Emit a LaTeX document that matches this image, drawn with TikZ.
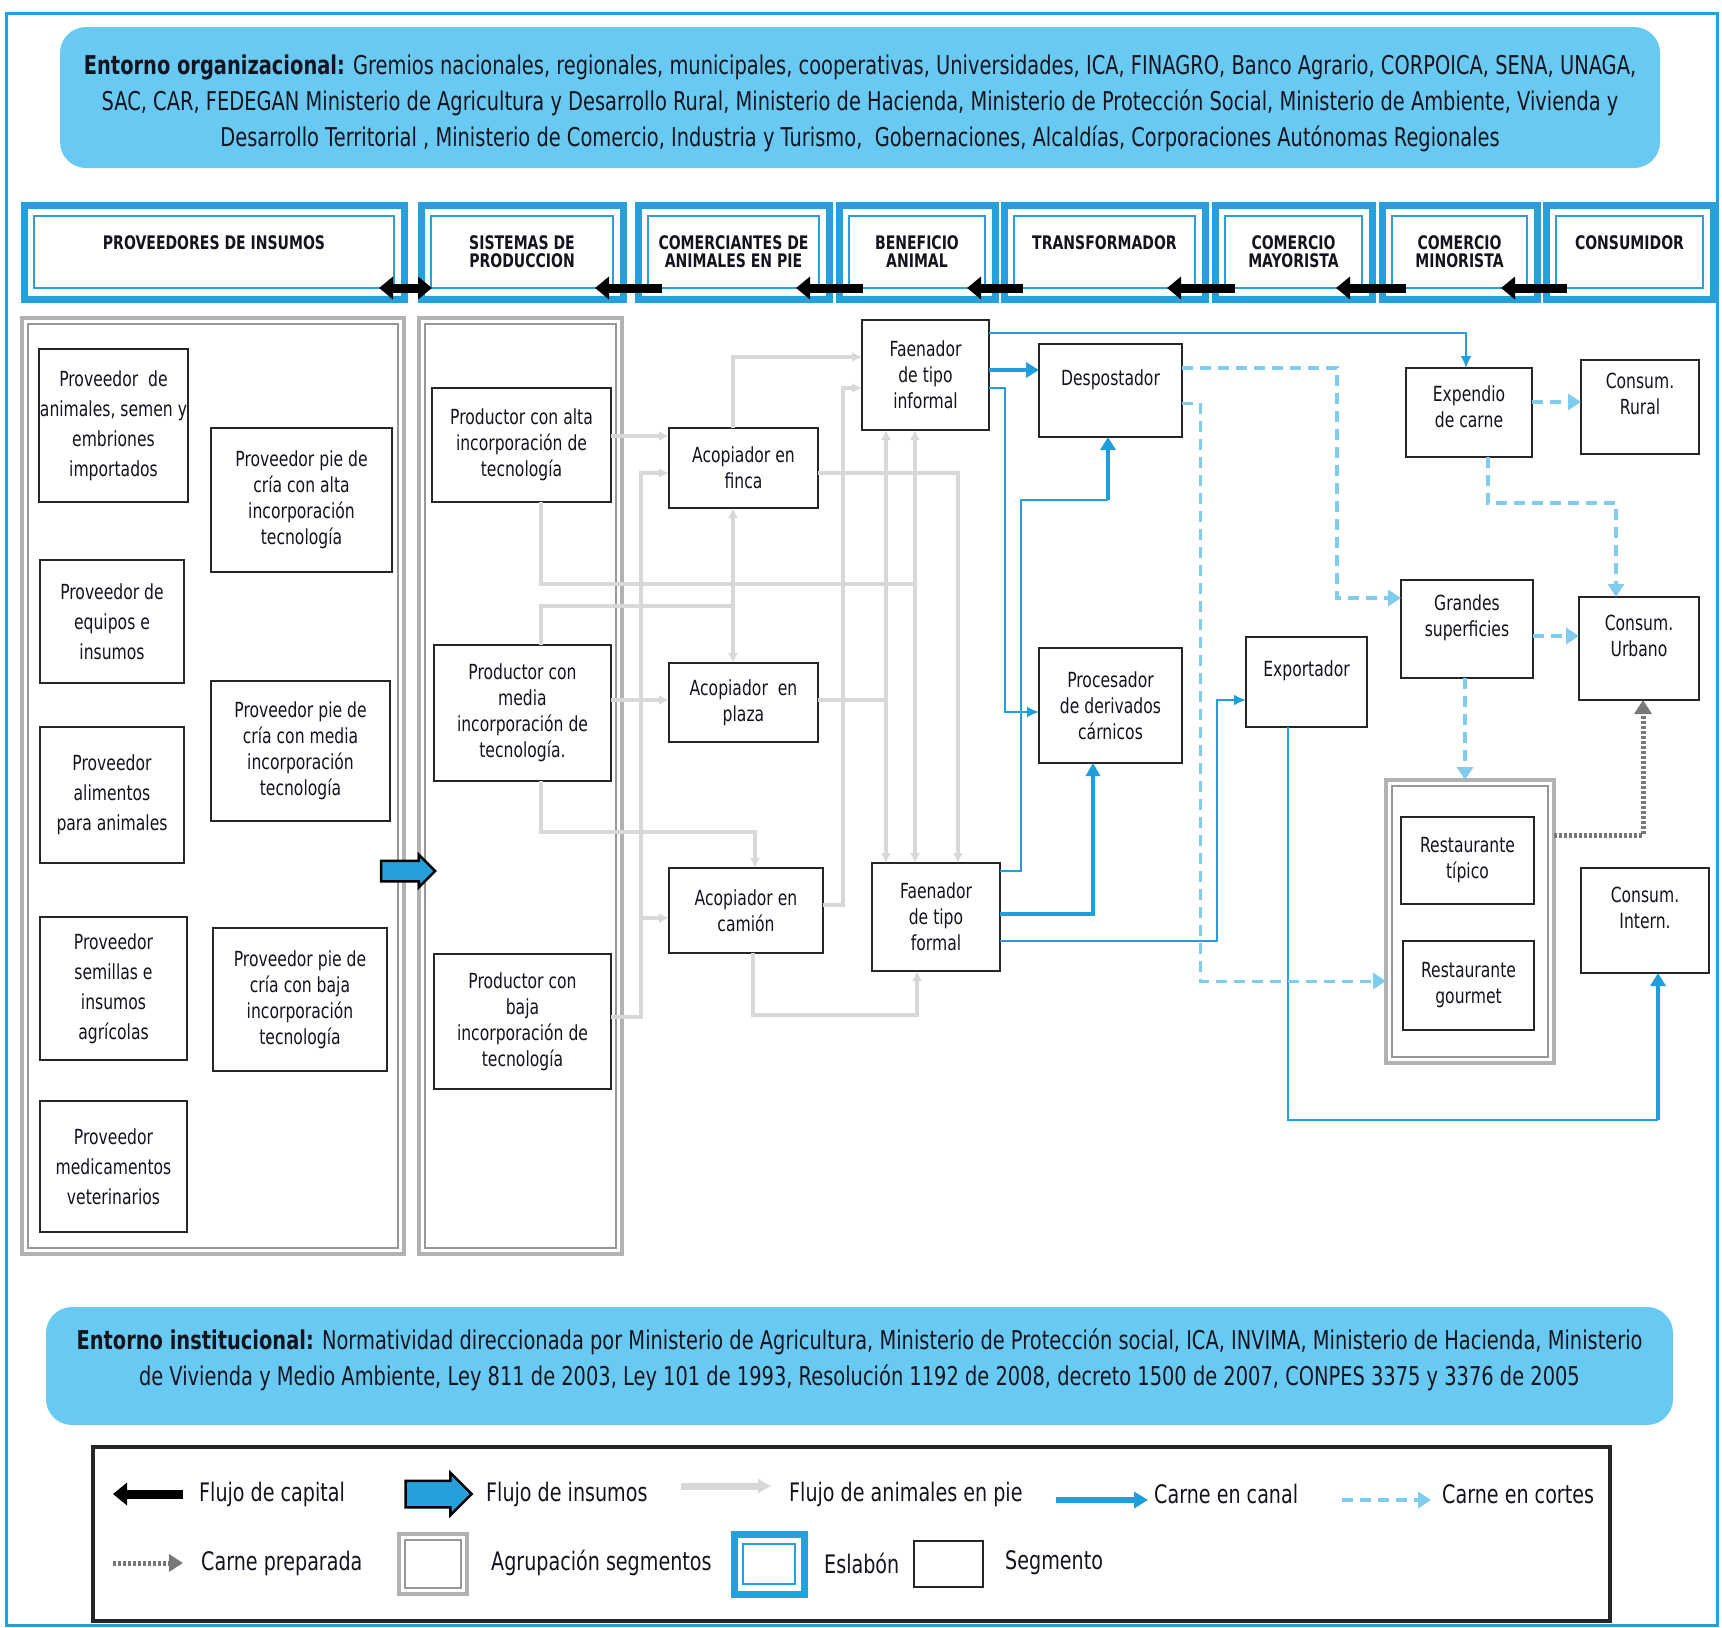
\documentclass[tikz,border=0pt]{standalone}
\usepackage{fontspec}
\setmainfont{DejaVu Sans}[FakeStretch=0.75]
\usetikzlibrary{arrows.meta,shapes.arrows,calc}
\definecolor{esblue}{RGB}{38,160,218}
\definecolor{bannerblue}{RGB}{104,202,242}
\definecolor{lineblue}{RGB}{30,158,218}
\definecolor{cutblue}{RGB}{128,204,238}
\definecolor{animgray}{RGB}{216,216,216}
\definecolor{grpgray}{RGB}{178,178,178}
\definecolor{prepgray}{RGB}{120,120,120}
\definecolor{textdark}{RGB}{20,20,30}
\newcommand\rectnode[7]{\node[#1, minimum width={#5-#3}, minimum height={#6-#4}] (#2) at ({(#3+#5)/2},{(#4+#6)/2}) {#7};}
\tikzset{
 seg/.style={draw=black!85, line width=2.2pt, fill=white, align=center, inner sep=1pt, outer sep=0pt, font=\fontsize{20.8}{26}\selectfont, text=textdark},
 segwide/.style={seg, font=\fontsize{20.8}{30}\selectfont},
 eslab/.style={draw=esblue, line width=7pt, fill=white, align=center, inner sep=0pt, outer sep=0pt, font=\bfseries\fontsize{18.7}{18}\selectfont, text=textdark},
 grp/.style={draw=grpgray, line width=3.5pt, fill=white, inner sep=0pt, outer sep=0pt},
 banner/.style={fill=bannerblue, rounded corners=26pt, align=center, inner sep=0pt, font=\fontsize{25.9}{36}\selectfont, text=textdark},
 bannertext/.style={align=center, inner sep=0pt, font=\fontsize{25.9}{36}\selectfont, text=textdark},
 legbox/.style={draw=black!85, line width=3.5pt, inner sep=0pt, outer sep=0pt},
 gline/.style={draw=animgray, line width=4pt, -{Latex[length=10pt,width=10pt]}},
 gplain/.style={draw=animgray, line width=4pt},
 bthin/.style={draw=lineblue, line width=2.5pt, -{Latex[length=12pt,width=11pt]}},
 bplain/.style={draw=lineblue, line width=2.5pt},
 bmed/.style={draw=lineblue, line width=3.5pt, -{Triangle[length=13pt,width=14pt]}},
 bthick/.style={draw=lineblue, line width=4.5pt, -{Triangle[length=13pt,width=15pt]}},
 cutline/.style={draw=cutblue, line width=4.5pt, dash pattern=on 11pt off 7pt, -{Triangle[length=13pt,width=16pt]}},
 prepline/.style={draw=prepgray, line width=5pt, dash pattern=on 3pt off 2pt, -{Triangle[length=14pt,width=17pt]}},
 capital/.style={draw=black, line width=9pt, -{Triangle[length=14pt,width=22pt]}},
 insumo/.style={single arrow, draw=black, fill=esblue, line width=2.5pt, minimum height=54pt, single arrow head extend=6pt, inner sep=0pt, text height=9pt, text depth=9pt},
 legtext/.style={anchor=west, font=\fontsize{25.5}{28}\selectfont, text=textdark, inner sep=0pt},
}
\begin{document}
\begin{tikzpicture}[x=1pt,y=-1pt]
\useasboundingbox (0,0) rectangle (1722,1628);
\fill[white] (0,0) rectangle (1722,1628);
\draw[esblue, line width=3pt] (6,13) rectangle (1717,1625);

% banners
\rectnode{banner}{org}{60}{27}{1660}{168}{}
\node[bannertext] (orgtext) at (860,103) {\textbf{Entorno organizacional:} Gremios nacionales, regionales, municipales, cooperativas, Universidades, ICA, FINAGRO, Banco Agrario, CORPOICA, SENA, UNAGA,\\SAC, CAR, FEDEGAN Ministerio de Agricultura y Desarrollo Rural, Ministerio de Hacienda, Ministerio de Protección Social, Ministerio de Ambiente, Vivienda y\\Desarrollo Territorial , Ministerio de Comercio, Industria y Turismo,\ \ Gobernaciones, Alcaldías, Corporaciones Autónomas Regionales};
\rectnode{banner}{inst}{46}{1307}{1673}{1425}{\textbf{Entorno institucional:} Normatividad direccionada por Ministerio de Agricultura, Ministerio de Protección social, ICA, INVIMA, Ministerio de Hacienda, Ministerio\\de Vivienda y Medio Ambiente, Ley 811 de 2003, Ley 101 de 1993, Resolución 1192 de 2008, decreto 1500 de 2007, CONPES 3375 y 3376 de 2005\\[-18pt]~}

% eslabones
\rectnode{eslab}{e1}{24}{205}{404}{299}{PROVEEDORES DE INSUMOS\\~}
\rectnode{eslab}{e2}{421}{205}{623}{299}{SISTEMAS DE\\PRODUCCION}
\rectnode{eslab}{e3}{638}{205}{829}{299}{COMERCIANTES DE\\ANIMALES EN PIE}
\rectnode{eslab}{e4}{839}{205}{995}{299}{BENEFICIO\\ANIMAL}
\rectnode{eslab}{e5}{1004}{205}{1205}{299}{TRANSFORMADOR\\~}
\rectnode{eslab}{e6}{1215}{205}{1372}{299}{COMERCIO\\MAYORISTA}
\rectnode{eslab}{e7}{1382}{205}{1537}{299}{COMERCIO\\MINORISTA}
\rectnode{eslab}{e8}{1546}{205}{1713}{299}{CONSUMIDOR\\~}
\foreach \n in {e1,e2,e3,e4,e5,e6,e7,e8}
  \draw[esblue, line width=2pt] ($(\n.north west)+(10,11)$) rectangle ($(\n.south east)+(-10,-11)$);

% agrupaciones
\rectnode{grp}{g1}{22}{318}{404}{1254}{}
\rectnode{grp}{g2}{419}{318}{622}{1254}{}
\rectnode{grp}{g3}{1386}{780}{1554}{1063}{}
\foreach \n in {g1,g2,g3}
  \draw[grpgray!85!black, line width=1.3pt] ($(\n.north west)+(6,6)$) rectangle ($(\n.south east)+(-6,-6)$);

% segmentos
\rectnode{segwide}{pa}{40}{349}{187}{502}{Proveedor\ \ de\\animales, semen y\\embriones\\importados}
\rectnode{segwide}{pe}{40}{560}{184}{683}{Proveedor de\\equipos e\\insumos}
\rectnode{segwide}{pal}{40}{727}{184}{863}{Proveedor\\alimentos\\para animales}
\rectnode{segwide}{ps}{40}{917}{187}{1060}{Proveedor\\semillas e\\insumos\\agrícolas}
\rectnode{segwide}{pm}{40}{1101}{187}{1232}{Proveedor\\medicamentos\\veterinarios}
\rectnode{seg}{pca}{211}{428}{392}{572}{Proveedor pie de\\cría con alta\\incorporación\\tecnología}
\rectnode{seg}{pcm}{211}{681}{390}{821}{Proveedor pie de\\cría con media\\incorporación\\tecnología}
\rectnode{seg}{pcb}{213}{928}{387}{1071}{Proveedor pie de\\cría con baja\\incorporación\\tecnología}
\rectnode{seg}{pra}{432}{388}{611}{502}{Productor con alta\\incorporación de\\tecnología}
\rectnode{seg}{prm}{434}{645}{611}{781}{Productor con\\media\\incorporación de\\tecnología.}
\rectnode{seg}{prb}{434}{954}{611}{1089}{Productor con\\baja\\incorporación de\\tecnología}
\rectnode{seg}{af}{669}{428}{818}{508}{Acopiador en\\finca}
\rectnode{seg}{ap}{669}{663}{818}{742}{Acopiador\ \ en\\plaza}
\rectnode{seg}{ac}{669}{868}{823}{953}{Acopiador en\\camión}
\rectnode{seg}{fi}{862}{320}{989}{430}{Faenador\\de tipo\\informal}
\rectnode{seg}{ff}{872}{863}{1000}{971}{Faenador\\de tipo\\formal}
\rectnode{seg}{desp}{1039}{344}{1182}{437}{Despostador\\~}
\rectnode{seg}{proc}{1039}{648}{1182}{763}{Procesador\\de derivados\\cárnicos}
\rectnode{seg}{exp}{1246}{637}{1367}{727}{Exportador\\~}
\rectnode{seg}{expc}{1406}{368}{1532}{457}{Expendio\\de carne\\[-14pt]~}
\rectnode{seg}{cr}{1581}{360}{1699}{454}{Consum.\\Rural\\~}
\rectnode{seg}{gs}{1401}{580}{1533}{678}{Grandes\\superficies\\~}
\rectnode{seg}{cu}{1579}{597}{1699}{700}{Consum.\\Urbano\\~}
\rectnode{seg}{rt}{1401}{817}{1534}{904}{Restaurante\\típico}
\rectnode{seg}{rg}{1403}{941}{1534}{1030}{Restaurante\\gourmet}
\rectnode{seg}{ci}{1581}{868}{1709}{973}{Consum.\\Intern.\\~}

% junction coordinates
\coordinate (jbTop) at (641,473);
\coordinate (jbCam) at (641,918);
\coordinate (jm) at (733,606);
\coordinate (jA) at (915,584);
\coordinate (jP) at (886,700);
\coordinate (jd) at (1108,500);
\coordinate (jci) at (1658,1120);

% flujo de animales en pie
\draw[gline] (pra.east |- 0,436) -- (af.west |- 0,436);
\draw[gline] (prb.east |- 0,1017) -| (jbTop) -- (af.west |- jbTop);
\draw[gline] (prm.east |- 0,700) -- (ap.west |- 0,700);
\draw[gline] (jbCam) -- (ac.west |- jbCam);
\draw[gplain] (prm.north -| 541,0) |- (jm);
\draw[gline] (jm) -- (af.south -| jm);
\draw[gline] (jm) -- (ap.north -| jm);
\draw[gline] (af.north -| jm) |- (fi.west |- 0,357);
\draw[gplain] (pra.south -| 541,0) |- (jA);
\draw[gline] (jA) -- (fi.south -| jA);
\draw[gline] (jA) -- (ff.north -| jA);
\draw[gplain] (ap.east |- jP) -- (jP);
\draw[gline] (jP) -- (fi.south -| jP);
\draw[gline] (jP) -- (ff.north -| jP);
\draw[gline] (af.east |- 0,473) -| (ff.north -| 958,0);
\draw[gline] (ac.east |- 0,905) -| (843,388) -- (fi.west |- 0,388);
\draw[gline] (ac.south -| 753,0) |- (917,1015) -- (ff.south -| 917,0);
\draw[gline] (prm.south -| 541,0) |- (755,832) -- (ac.north -| 755,0);

% carne en canal
\draw[bthin] (fi.east |- 0,333) -| (expc.north -| 1466,0);
\draw[bthick] (fi.east |- 0,370) -- (desp.west |- 0,370);
\draw[bthin] (fi.east |- 0,388) -| (1005,712) -- (proc.west |- 0,712);
\draw[bplain] (ff.east |- 0,871) -| (1021,500) -- (jd);
\draw[bthick] (jd) -- (desp.south -| jd);
\draw[bmed] (ff.east |- 0,914) -| (proc.south -| 1093,0);
\draw[bthin] (ff.east |- 0,941) -| (1217,700) -- (exp.west |- 0,700);
\draw[bplain] (exp.south -| 1288,0) |- (jci);
\draw[bthick] (jci) -- (ci.south -| jci);

% carne en cortes
\draw[cutline] (desp.east |- 0,368) -| (1337,598) -- (gs.west |- 0,598);
\draw[cutline, line width=3pt] (desp.east |- 0,403) -| (1200,981) -- (g3.west |- 0,981);
\draw[cutline] (expc.south -| 1488,0) |- (1616,503) -- (cu.north -| 1616,0);
\draw[cutline] (expc.east |- 0,402) -- (cr.west |- 0,402);
\draw[cutline] (gs.east |- 0,636) -- (cu.west |- 0,636);
\draw[cutline] (gs.south -| 1465,0) -- (g3.north -| 1465,0);

% carne preparada
\draw[prepline] (g3.east |- 0,835) -| (cu.south -| 1643,0);

% flujo de capital
\draw[capital, {Triangle[length=14pt,width=22pt]}-{Triangle[length=14pt,width=22pt]}] ($(e2.west)+(-42,36)$) -- ($(e2.west)+(11,36)$);
\draw[capital] ($(e3.west)+(24,36)$) -- ($(e3.west)+(-43,36)$);
\draw[capital] ($(e4.west)+(24,36)$) -- ($(e4.west)+(-43,36)$);
\draw[capital] ($(e5.west)+(19,36)$) -- ($(e5.west)+(-37,36)$);
\draw[capital] ($(e6.west)+(20,36)$) -- ($(e6.west)+(-48,36)$);
\draw[capital] ($(e7.west)+(24,36)$) -- ($(e7.west)+(-46,36)$);
\draw[capital] ($(e8.west)+(21,36)$) -- ($(e8.west)+(-45,36)$);

% flujo de insumos
\node[insumo] (ins) at (403,871) {};

% legend
\rectnode{legbox}{leg}{93}{1447}{1610}{1621}{}
\coordinate (l1a) at (183,1494); \coordinate (l1b) at (113,1494);
\draw[capital] (l1a) -- (l1b);
\node[legtext] (t1) at (199,1494) {Flujo de capital};
\node[insumo, minimum height=66pt, text height=12pt, text depth=12pt, single arrow head extend=8pt] (li) at (432,1494) {};
\node[legtext] (t2) at (486,1494) {Flujo de insumos};
\coordinate (l3a) at (681,1486); \coordinate (l3b) at (772,1486);
\draw[draw=animgray, line width=7pt, -{Latex[length=14pt,width=16pt]}] (l3a) -- (l3b);
\node[legtext] (t3) at (789,1494) {Flujo de animales en pie};
\coordinate (l4a) at (1056,1500); \coordinate (l4b) at (1148,1500);
\draw[draw=lineblue, line width=6pt, -{Triangle[length=14pt,width=16pt]}] (l4a) -- (l4b);
\node[legtext] (t4) at (1154,1494) {Carne en canal};
\coordinate (l5a) at (1342,1500); \coordinate (l5b) at (1431,1500);
\draw[cutline] (l5a) -- (l5b);
\node[legtext] (t5) at (1442,1494) {Carne en cortes};
\coordinate (l6a) at (113,1563); \coordinate (l6b) at (183,1563);
\draw[prepline] (l6a) -- (l6b);
\node[legtext] (t6) at (201,1563) {Carne preparada};
\rectnode{grp}{lg}{399}{1534}{467}{1594}{}
\draw[grpgray!85!black, line width=1.3pt] ($(lg.north west)+(6,6)$) rectangle ($(lg.south east)+(-6,-6)$);
\node[legtext] (t7) at (491,1563) {Agrupación segmentos};
\rectnode{eslab}{le}{734}{1534}{804}{1594}{}
\draw[esblue, line width=2pt] ($(le.north west)+(9,10)$) rectangle ($(le.south east)+(-9,-10)$);
\node[legtext] (t8) at (824,1563) {Eslabón};
\rectnode{seg}{ls}{914}{1541}{983}{1587}{}
\node[legtext] (t9) at (1005,1563) {Segmento};
\end{tikzpicture}
\end{document}
